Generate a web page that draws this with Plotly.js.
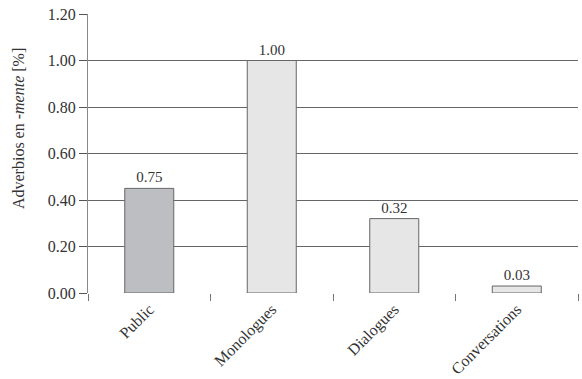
<!DOCTYPE html>
<html>
<head>
<meta charset="utf-8">
<script src="https://cdn.plot.ly/plotly-3.0.1.min.js"></script>
<style>html,body{margin:0;padding:0;background:#fff;}#chart{width:582px;height:379px;}</style>
</head>
<body>
<div id="chart"></div>
<script>
const categories = ["Public", "Monologues", "Dialogues", "Conversations"];
const values = [0.45, 1.00, 0.32, 0.03];
const barLabels = ["0.75", "1.00", "0.32", "0.03"];
const barColors = ["#bdbec2", "#e6e6e6", "#e6e6e6", "#e6e6e6"];
const yTicks = [0, 0.2, 0.4, 0.6, 0.8, 1.0, 1.2];
const yTickLabels = ["0.00", "0.20", "0.40", "0.60", "0.80", "1.00", "1.20"];
const yTitle = "Adverbios en -<i>mente</i> [%]";

const serif = "Liberation Serif, Times New Roman, serif";

Plotly.newPlot("chart", [{
  type: "bar",
  x: categories,
  y: values,
  text: barLabels,
  textposition: "outside",
  cliponaxis: false,
  textfont: {family: serif, size: 15, color: "#333"},
  marker: {color: barColors, line: {color: "#666", width: 1}},
  width: 0.4,
  hoverinfo: "none"
}], {
  width: 582, height: 379,
  margin: {l: 88, r: 4, t: 14, b: 86},
  paper_bgcolor: "#fff", plot_bgcolor: "#fff",
  showlegend: false,
  font: {family: serif, color: "#333"},
  xaxis: {
    type: "category",
    tickson: "boundaries",
    ticks: "outside", ticklen: 7, tickcolor: "#777", tickwidth: 1,
    tickangle: -45,
    ticklabelstandoff: 3,
    tickfont: {family: serif, size: 16, color: "#333"},
    showline: false, showgrid: false, zeroline: false
  },
  yaxis: {
    range: [0, 1.2],
    tickvals: yTicks, ticktext: yTickLabels,
    ticks: "outside", ticklen: 8, tickcolor: "#555",
    tickfont: {family: serif, size: 16, color: "#333"},
    showgrid: true, gridcolor: "#666", gridwidth: 1,
    zeroline: false,
    showline: true, linecolor: "#888", linewidth: 1
  },
  annotations: [{
    text: yTitle, textangle: -90, showarrow: false,
    xref: "paper", yref: "paper", x: -0.143, y: 0.591,
    xanchor: "center", yanchor: "middle",
    font: {family: serif, size: 16, color: "#333"}
  }]
}, {staticPlot: true});
</script>
</body>
</html>
